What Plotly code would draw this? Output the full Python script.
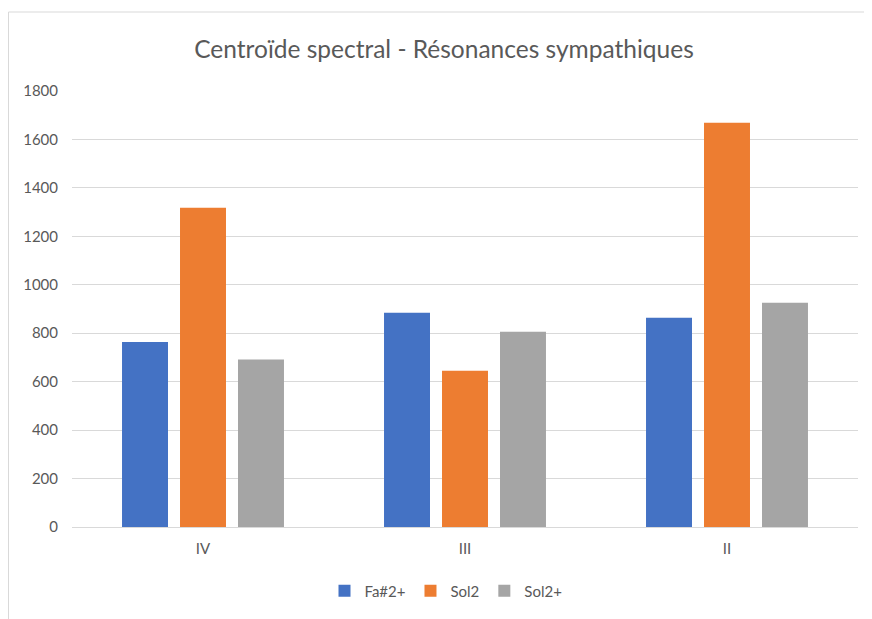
import plotly.graph_objects as go

categories = ["IV", "III", "II"]
fa_sharp2_plus = [764, 885, 864]
sol2 = [1318, 645, 1669]
sol2_plus = [692, 806, 926]

series = [
    ("Fa#2+", fa_sharp2_plus, "#4472C4"),
    ("Sol2", sol2, "#ED7D31"),
    ("Sol2+", sol2_plus, "#A5A5A5"),
]

# page body has an 8px default margin; work in window pixels and shift
O = 8
W, H = 872 - O, 619 - O
# plot area in window pixels
PX0, PX1, PY0, PY1 = 72, 858, 91, 527
L, T = PX0 - O, PY0 - O
R, B = W - (PX1 - O), H - (PY1 - O)
pw, ph = PX1 - PX0, PY1 - PY0

def px_x(p):
    return (p - PX0) / pw

def px_y(p):
    return (PY1 - p) / ph

fig = go.Figure()
for name, vals, col in series:
    fig.add_trace(go.Bar(x=categories, y=vals, name=name,
                         marker=dict(color=col, line=dict(width=0))))

fig.update_layout(
    width=W, height=H,
    margin=dict(l=L, r=R, t=T, b=B, autoexpand=False),
    paper_bgcolor="white", plot_bgcolor="white",
    font=dict(family="Lato, Open Sans, sans-serif", color="#595959", size=15),
    barmode="group", bargap=0.336, bargroupgap=0.207,
    title=dict(text="Centroïde spectral - Résonances sympathiques",
               x=(444 - O) / W, xanchor="center",
               y=1 - (49 - O) / H, yanchor="middle", yref="container",
               font=dict(size=24.5, color="#595959")),
    legend=dict(orientation="h", x=px_x(446), xanchor="center", y=px_y(591), yanchor="middle",
                font=dict(size=15, color="#595959"), itemwidth=30, traceorder="normal"),
    yaxis=dict(range=[0, 1800], dtick=200, showgrid=True, gridcolor="#D9D9D9", gridwidth=1,
               zeroline=False, showline=False, ticks="", ticklabelstandoff=13,
               tickfont=dict(size=15, color="#595959")),
    xaxis=dict(showline=True, linecolor="#D9D9D9", linewidth=1, ticks="",
               tickfont=dict(size=15, color="#595959"), ticklabelstandoff=8),
    showlegend=True,
)

fig.add_shape(type="rect", xref="paper", yref="paper",
              x0=px_x(8.5), x1=px_x(900), y0=px_y(660), y1=px_y(12),
              line=dict(color="#D9D9D9", width=1), fillcolor="rgba(0,0,0,0)", layer="below")

fig.write_html("out.html")
